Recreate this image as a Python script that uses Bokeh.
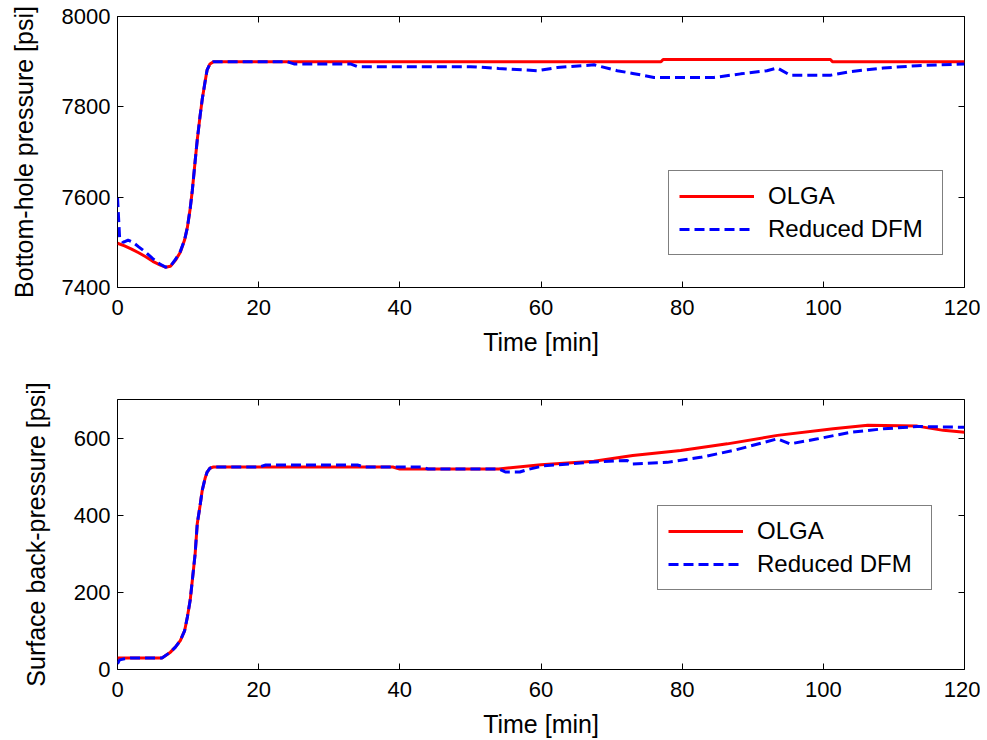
from bokeh.plotting import figure
from bokeh.layouts import column
from bokeh.models import Range1d, FixedTicker, LinearAxis, Legend, LegendItem, CustomJSTickFormatter
from bokeh.embed import file_html
from bokeh.resources import INLINE

# ---------------- data ----------------
rise_t = [8.2, 8.9, 9.5, 9.9, 10.3, 10.6, 11.0, 11.3, 11.7, 12.0, 12.4, 12.7, 13.1, 13.6]

# Top: bottom-hole pressure [psi]
bhp_olga_t = [0, 1, 2, 3, 4, 5, 6, 6.8, 7.5] + rise_t + [20, 40, 60, 77, 77.3, 101, 101.3, 120]
bhp_olga_v = [7498, 7492, 7485, 7477, 7468, 7458, 7450, 7445, 7447,
              7460, 7478, 7505, 7533, 7575, 7615, 7680, 7727, 7780, 7816, 7855, 7882, 7895, 7900,
              7900, 7900, 7900, 7900, 7905, 7905, 7900, 7900]

bhp_dfm_t = [0, 0.3, 0.8, 1.5, 2.2, 3, 4, 5, 6, 6.8, 7.5] + rise_t + \
            [20, 24, 25, 33, 34, 50, 54, 59.5, 62.3, 67.5, 70.8, 73, 76, 84.5, 88.3, 92,
             93.5, 95.3, 101, 103.8, 108.5, 113.3, 120]
bhp_dfm_v = [7600, 7510, 7500, 7505, 7500, 7490, 7478, 7464, 7452, 7445, 7447,
             7462, 7480, 7505, 7533, 7575, 7615, 7680, 7727, 7780, 7816, 7855, 7882, 7895, 7900,
             7900, 7900, 7895, 7895, 7889, 7889, 7885, 7880, 7887, 7893, 7880, 7874, 7865, 7865,
             7873, 7880, 7886, 7870, 7870, 7878, 7886, 7891, 7895]

# Bottom: surface back-pressure [psi]
sbp_olga_t = [0, 6.3, 7.5] + rise_t + [20, 39, 40, 54, 60, 67.5, 73, 79.8, 86.4, 93.5,
                                       101.4, 106.3, 113.3, 117, 120]
sbp_olga_v = [30, 30, 45,
              58, 75, 100, 136, 180, 231, 300, 378, 425, 464, 495, 512, 522, 525,
              525, 525, 520, 520, 531, 540, 555, 568, 585, 607, 624, 633, 631, 620, 615]

sbp_dfm_t = [0, 0.3, 1, 2, 6.3, 7.5] + rise_t + [20, 21, 34, 35, 43, 44, 54, 55, 57, 58,
                                                 60.4, 67.5, 72.2, 73, 77.9, 82.6, 87.3,
                                                 93.5, 95.3, 99.2, 103.8, 108.5, 113.3, 120]
sbp_dfm_v = [15, 25, 28, 30, 30, 45,
             58, 75, 100, 136, 180, 231, 300, 378, 425, 464, 495, 512, 522, 525,
             525, 530, 530, 525, 525, 520, 520, 512, 512, 518,
             528, 538, 542, 533, 537, 550, 568, 598, 585, 598, 615, 624, 630, 628]

x_ticks = [0, 20, 40, 60, 80, 100, 120]
top_y_ticks = [7400, 7600, 7800, 8000]
bot_y_ticks = [0, 200, 400, 600]

FONT = "Liberation Sans"
TICK_FS = "22px"
LABEL_FS = "25px"
LEGEND_FS = "24px"


def style_axis(ax, show_labels=True):
    ax.major_tick_in = 6
    ax.major_tick_out = 0
    ax.minor_tick_in = 0
    ax.minor_tick_out = 0
    ax.axis_line_color = None
    ax.major_tick_line_color = "black"
    ax.major_tick_line_width = 1
    ax.major_label_text_font = FONT
    ax.major_label_text_color = "black"
    ax.major_label_text_font_size = TICK_FS
    if not show_labels:
        ax.formatter = CustomJSTickFormatter(code="return ''")
        ax.major_label_standoff = 0
    ax.axis_label_text_font = FONT
    ax.axis_label_text_font_size = LABEL_FS
    ax.axis_label_text_font_style = "normal"
    ax.axis_label_text_color = "black"


def make_panel(ylabel, yr, yticks, olga_t, olga_v, dfm_t, dfm_v, frame_h,
               top_border, bottom_border, leg_loc):
    p = figure(frame_width=847, frame_height=frame_h,
               x_range=Range1d(0, 120), y_range=Range1d(*yr),
               output_backend="svg", toolbar_location=None,
               min_border_left=117, min_border_right=16,
               min_border_top=top_border, min_border_bottom=bottom_border)
    p.background_fill_color = "white"
    p.border_fill_color = "white"
    p.outline_line_color = "black"
    p.outline_line_width = 1
    p.xgrid.visible = False
    p.ygrid.visible = False

    p.xaxis.ticker = FixedTicker(ticks=x_ticks)
    p.yaxis.ticker = FixedTicker(ticks=yticks)
    p.xaxis.axis_label = "Time [min]"
    p.yaxis.axis_label = ylabel
    for ax in p.xaxis + p.yaxis:
        style_axis(ax)
    p.xaxis.major_label_standoff = 12
    p.xaxis.axis_label_standoff = 10
    p.yaxis.major_label_standoff = 7
    p.yaxis.axis_label_standoff = 21

    top_ax = LinearAxis(ticker=FixedTicker(ticks=x_ticks))
    style_axis(top_ax, show_labels=False)
    p.add_layout(top_ax, "above")
    right_ax = LinearAxis(ticker=FixedTicker(ticks=yticks))
    style_axis(right_ax, show_labels=False)
    p.add_layout(right_ax, "right")

    r1 = p.line(olga_t, olga_v, line_color="#ff0000", line_width=3)
    r2 = p.line(dfm_t, dfm_v, line_color="#0000ff", line_width=3, line_dash="10 5")

    leg = Legend(items=[LegendItem(label="OLGA", renderers=[r1]),
                        LegendItem(label="Reduced DFM", renderers=[r2])],
                 location=leg_loc)
    leg.label_text_font = FONT
    leg.label_text_font_size = LEGEND_FS
    leg.label_text_color = "black"
    leg.glyph_width = 75
    leg.glyph_height = 30
    leg.label_height = 30
    leg.label_width = 164
    leg.label_standoff = 14
    leg.spacing = 3
    leg.padding = 10
    leg.margin = 0
    leg.border_line_color = "black"
    leg.border_line_width = 1
    leg.background_fill_color = "white"
    leg.background_fill_alpha = 1
    p.add_layout(leg, "center")
    return p


p1 = make_panel("Bottom-hole pressure [psi]", (7400, 8000), top_y_ticks,
                bhp_olga_t, bhp_olga_v, bhp_dfm_t, bhp_dfm_v, 271,
                top_border=16, bottom_border=91, leg_loc=(551, 32))
p2 = make_panel("Surface back-pressure [psi]", (0, 700), bot_y_ticks,
                sbp_olga_t, sbp_olga_v, sbp_dfm_t, sbp_dfm_v, 270,
                top_border=21, bottom_border=66, leg_loc=(540, 79))

layout = column(p1, p2, spacing=0)
open("out.html", "w").write(file_html(layout, INLINE))
